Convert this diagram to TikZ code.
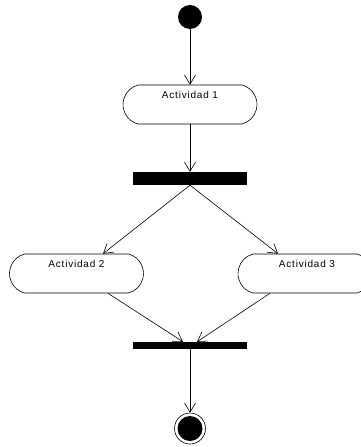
\documentclass[tikz,border=0pt]{standalone}
\usepackage{fontspec}
\newfontfamily\actfont{Liberation Sans}[LetterSpace=8]
\usetikzlibrary{arrows.meta,shapes.misc,calc}
\tikzset{
  act/.style={rounded rectangle, rounded rectangle arc length=150, draw, line width=0.6pt,
    minimum width=134pt, minimum height=39pt, inner sep=0pt},
  lbl/.style={font=\actfont\fontsize{10pt}{12pt}\selectfont, inner sep=0pt},
  bar/.style={fill=black, inner sep=0pt, minimum width=114pt},
  startnode/.style={circle, fill=black, inner sep=0pt, minimum size=24pt},
  endnode/.style={circle, draw, line width=0.6pt, inner sep=0pt, minimum size=31pt},
  arr/.style={line width=0.6pt, -{Straight Barb[length=9pt,width=11pt,line width=0.6pt]}}
}
\begin{document}
\begin{tikzpicture}[x=1pt,y=-1pt]
\useasboundingbox[fill=white] (0,0) rectangle (360,447);
\node[startnode] (s) at (190,17) {};
\node[act] (a1) at (190,104.5) {};
\node[lbl] (a1t) at ($(a1.north)+(0,10.5)$) {Actividad 1};
\node[bar, minimum height=13pt] (b1) at (190,178.5) {};
\node[act] (a2) at (76.5,273.5) {};
\node[lbl] (a2t) at ($(a2.north)+(0,10)$) {Actividad 2};
\node[act] (a3) at (305,273.5) {};
\node[lbl] (a3t) at ($(a3.north)+(2,10)$) {Actividad 3};
\node[bar, minimum height=7pt] (b2) at (190,345.5) {};
\node[endnode] (e) at (190,428.5) {};
\fill (e.center) circle (12.5pt);
\draw[arr] (s) -- (a1);
\draw[arr] (a1) -- (b1);
\draw[arr] (b1.south) -- ($(a2.north)+(26.5,0)$);
\draw[arr] (b1.south) -- ($(a3.north)+(-27,0)$);
\draw[arr] ($(a2.south)+(31.5,0)$) -- ($(b2.north)+(-7,0)$);
\draw[arr] ($(a3.south)+(-35,0)$) -- ($(b2.north)+(7,0)$);
\draw[arr] (b2) -- (e);
\end{tikzpicture}
\end{document}
